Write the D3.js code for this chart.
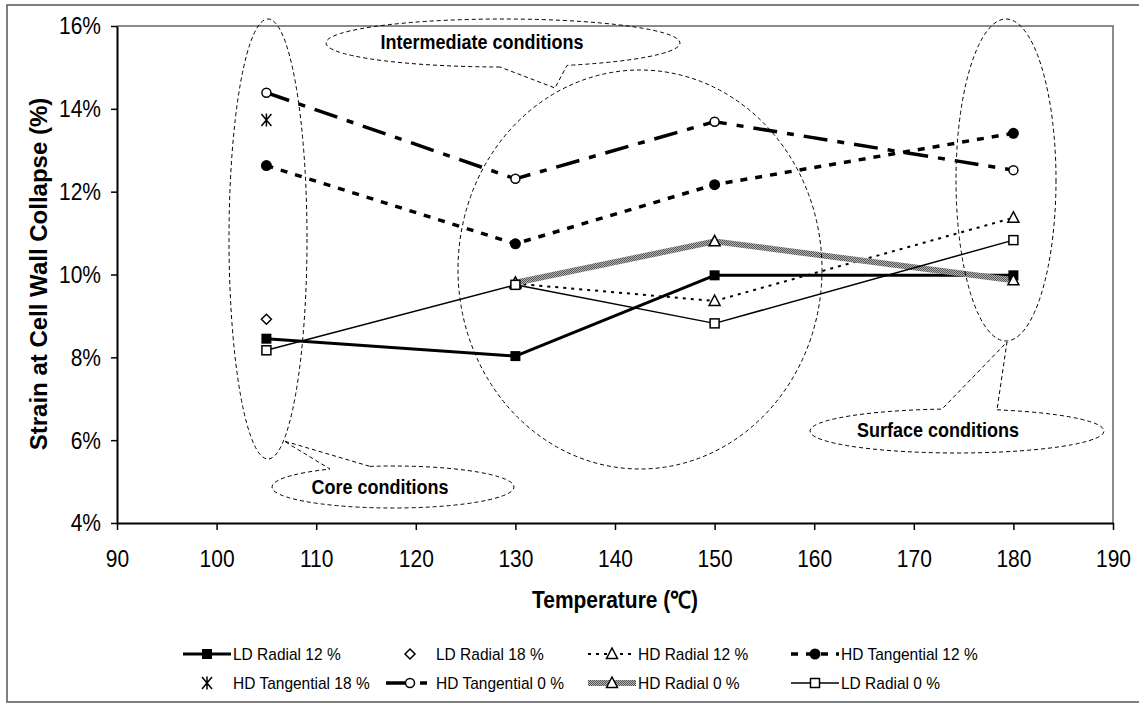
<!DOCTYPE html>
<html>
<head>
<meta charset="utf-8">
<script src="https://cdn.jsdelivr.net/npm/d3@7"></script>
<style>
  html, body { margin: 0; padding: 0; background: #fff; }
  svg { display: block; font-family: "Liberation Sans", Arial, sans-serif; }
</style>
</head>
<body>
<svg id="chart" width="1139" height="704"></svg>
<script>
// Drying temperatures (°C)
const temperatures = [105, 130, 150, 180];

// Strain at cell wall collapse (%) per series; null = not measured
const ldRadial12     = [8.45, 8.03, 9.98, 9.98];
const ldRadial18     = [8.92, null, null, null];
const hdRadial12     = [null, 9.78, 9.36, 11.37];
const hdTangential12 = [12.63, 10.74, 12.17, 13.41];
const hdTangential18 = [13.73, null, null, null];
const hdTangential0  = [14.39, 12.31, 13.69, 12.52];
const hdRadial0      = [null, 9.80, 10.80, 9.86];
const ldRadial0      = [8.17, 9.75, 8.82, 10.83];

const seriesNames = ["LD Radial 12 %", "LD Radial 18 %", "HD Radial 12 %", "HD Tangential 12 %",
                     "HD Tangential 18 %", "HD Tangential 0 %", "HD Radial 0 %", "LD Radial 0 %"];

const xTicks = [90, 100, 110, 120, 130, 140, 150, 160, 170, 180, 190];
const yTicks = [4, 6, 8, 10, 12, 14, 16];

const svg = d3.select("#chart");

// hatched grey stroke used by "HD Radial 0 %"
const defs = svg.append("defs");
const pat = defs.append("pattern").attr("id", "hatch")
  .attr("patternUnits", "userSpaceOnUse").attr("width", 2).attr("height", 2);
pat.append("rect").attr("width", 2).attr("height", 2).attr("fill", "#b4b4b4");
pat.append("rect").attr("width", 1).attr("height", 1).attr("fill", "#555");
pat.append("rect").attr("x", 1).attr("y", 1).attr("width", 1).attr("height", 1).attr("fill", "#555");

// outer chart frame
svg.append("rect").attr("x", 7).attr("y", 5).attr("width", 1150).attr("height", 697)
  .attr("fill", "none").attr("stroke", "#555").attr("stroke-width", 1.5);

const x = d3.scaleLinear().domain([90, 190]).range([117, 1113]);
const y = d3.scaleLinear().domain([4, 16]).range([523, 26]);

// plot area border (top/right)
svg.append("path")
  .attr("d", `M${x(90)},${y(16)}H${x(190)}V${y(4)}`)
  .attr("fill", "none").attr("stroke", "#666").attr("stroke-width", 1.5);

// axes
const yAxis = svg.append("g").attr("transform", `translate(${x(90)},0)`)
  .call(d3.axisLeft(y).tickValues(yTicks).tickFormat(d => d + "%").tickSize(6).tickSizeOuter(0));
const xAxis = svg.append("g").attr("transform", `translate(0,${y(4)})`)
  .call(d3.axisBottom(x).tickValues(xTicks).tickFormat(d3.format("d")).tickSize(7).tickSizeOuter(0));

[yAxis, xAxis].forEach(g => {
  g.select(".domain").attr("stroke", "#000").attr("stroke-width", 2);
  g.selectAll(".tick line").attr("stroke", "#000").attr("stroke-width", 1.5);
  g.selectAll(".tick text").attr("fill", "#000").attr("font-size", 21)
    .attr("font-family", "Liberation Sans, Arial, sans-serif");
});
yAxis.selectAll(".tick text")
  .attr("x", null).attr("dy", null)
  .attr("text-anchor", "end").attr("dominant-baseline", "central")
  .attr("transform", "translate(-16,0) scale(1,1.12)");
xAxis.selectAll(".tick text")
  .attr("y", null).attr("dy", null)
  .attr("dominant-baseline", "central")
  .attr("transform", "translate(0,36) scale(1,1.12)");

// axis titles
function stretchedText(px, py, txt, size, weight, sy) {
  return svg.append("text")
    .attr("transform", `translate(${px},${py}) scale(1,${sy})`)
    .attr("text-anchor", "middle").attr("dominant-baseline", "central")
    .attr("font-size", size).attr("font-weight", weight).attr("fill", "#000")
    .text(txt);
}
stretchedText(615, 600, "Temperature (℃)", 21, "bold", 1.12);
svg.append("text")
  .attr("transform", "translate(38,274) rotate(-90)")
  .attr("text-anchor", "middle").attr("dominant-baseline", "central")
  .attr("font-size", 24).attr("font-weight", "bold").attr("fill", "#000")
  .text("Strain at Cell Wall Collapse (%)");

// series styles
const styles = [
  { data: ldRadial12,     stroke: "#000", width: 3,   dash: null,           marker: "squareFilled" },
  { data: ldRadial18,     stroke: "#000", width: 0,   dash: null,           marker: "diamond" },
  { data: hdRadial12,     stroke: "#000", width: 2,   dash: "3,5",          marker: "triangle" },
  { data: hdTangential12, stroke: "#000", width: 3.5, dash: "7,8",          marker: "circleFilled" },
  { data: hdTangential18, stroke: "#000", width: 0,   dash: null,           marker: "asterisk" },
  { data: hdTangential0,  stroke: "#000", width: 3.5, dash: "24,10,7,10",   marker: "circle" },
  { data: hdRadial0,      stroke: "url(#hatch)", width: 6, dash: null,      marker: "triangle" },
  { data: ldRadial0,      stroke: "#000", width: 1.5, dash: null,           marker: "square" }
];

function drawMarker(g, kind, cx, cy) {
  const s = g.append("g").attr("transform", `translate(${cx},${cy})`);
  switch (kind) {
    case "squareFilled":
      s.append("rect").attr("x", -5).attr("y", -5).attr("width", 10).attr("height", 10).attr("fill", "#000");
      break;
    case "square":
      s.append("rect").attr("x", -4.5).attr("y", -4.5).attr("width", 9).attr("height", 9)
        .attr("fill", "#fff").attr("stroke", "#000").attr("stroke-width", 1.5);
      break;
    case "diamond":
      s.append("path").attr("d", "M0,-5L5,0L0,5L-5,0Z")
        .attr("fill", "#fff").attr("stroke", "#000").attr("stroke-width", 1.5);
      break;
    case "triangle":
      s.append("path").attr("d", "M0,-6L5.5,4.5L-5.5,4.5Z")
        .attr("fill", "#fff").attr("stroke", "#000").attr("stroke-width", 1.5);
      break;
    case "circleFilled":
      s.append("circle").attr("r", 5.5).attr("fill", "#000");
      break;
    case "circle":
      s.append("circle").attr("r", 4.5).attr("fill", "#fff").attr("stroke", "#000").attr("stroke-width", 1.5);
      break;
    case "asterisk":
      s.append("path").attr("d", "M-5,-6L5,6M5,-6L-5,6M0,-6.5V6.5")
        .attr("fill", "none").attr("stroke", "#000").attr("stroke-width", 1.5);
      break;
  }
}

const plot = svg.append("g");
const line = d3.line()
  .defined(d => d.v !== null)
  .x(d => x(d.t)).y(d => y(d.v));

styles.forEach(st => {
  const pts = temperatures.map((t, i) => ({ t, v: st.data[i] }));
  if (st.width > 0) {
    plot.append("path").datum(pts).attr("d", line)
      .attr("fill", "none").attr("stroke", st.stroke).attr("stroke-width", st.width)
      .attr("stroke-dasharray", st.dash).attr("stroke-linejoin", "round");
  }
});
styles.forEach(st => {
  temperatures.forEach((t, i) => {
    if (st.data[i] !== null) drawMarker(plot, st.marker, x(t), y(st.data[i]));
  });
});

// condition groupings (dashed outlines)
const notes = svg.append("g").attr("fill", "none").attr("stroke", "#000")
  .attr("stroke-width", 1).attr("stroke-dasharray", "4,3");
notes.append("ellipse").attr("cx", 268).attr("cy", 239).attr("rx", 39).attr("ry", 220);
notes.append("ellipse").attr("cx", 640).attr("cy", 269.5).attr("rx", 182).attr("ry", 199.5);
notes.append("ellipse").attr("cx", 1006).attr("cy", 180).attr("rx", 50).attr("ry", 161);

// callout ellipse with a wedge pointer; joins on top (side = -1) or bottom (side = 1)
function callout(cx, cy, rx, ry, xa, xb, side, tip) {
  const yOn = xx => cy + side * ry * Math.sqrt(Math.max(0, 1 - ((xx - cx) / rx) ** 2));
  const a = [xa, yOn(xa)], b = [xb, yOn(xb)];
  let d;
  if (side > 0) d = `M${a}A${rx},${ry} 0 1 1 ${b}L${tip}Z`;
  else d = `M${b}A${rx},${ry} 0 1 1 ${a}L${tip}Z`;
  notes.append("path").attr("d", d);
}
callout(503, 43, 177, 24, 500, 567, 1, [555, 88]);
callout(393, 487, 121, 21, 330, 370, -1, [284, 441]);
callout(957, 431, 147, 22, 942, 997, -1, [1007, 342]);

stretchedText(482, 42, "Intermediate conditions", 18, "bold", 1.15);
stretchedText(380, 487, "Core conditions", 18, "bold", 1.15);
stretchedText(938, 430, "Surface conditions", 18, "bold", 1.15);

// legend
const legendCols = [207, 410, 612, 815];
const legendRows = [654, 683];
const legend = svg.append("g");
styles.forEach((st, i) => {
  const cx = legendCols[i % 4], cy = legendRows[Math.floor(i / 4)];
  if (st.width > 0) {
    legend.append("line").attr("x1", cx - 24).attr("x2", cx + 24).attr("y1", cy).attr("y2", cy)
      .attr("stroke", st.stroke).attr("stroke-width", st.width).attr("stroke-dasharray", st.dash);
  }
  drawMarker(legend, st.marker, cx, cy);
  legend.append("text")
    .attr("transform", `translate(${cx + 26},${cy}) scale(1,1.08)`)
    .attr("dominant-baseline", "central").attr("font-size", 15.5).attr("fill", "#000")
    .text(seriesNames[i]);
});
</script>
</body>
</html>
